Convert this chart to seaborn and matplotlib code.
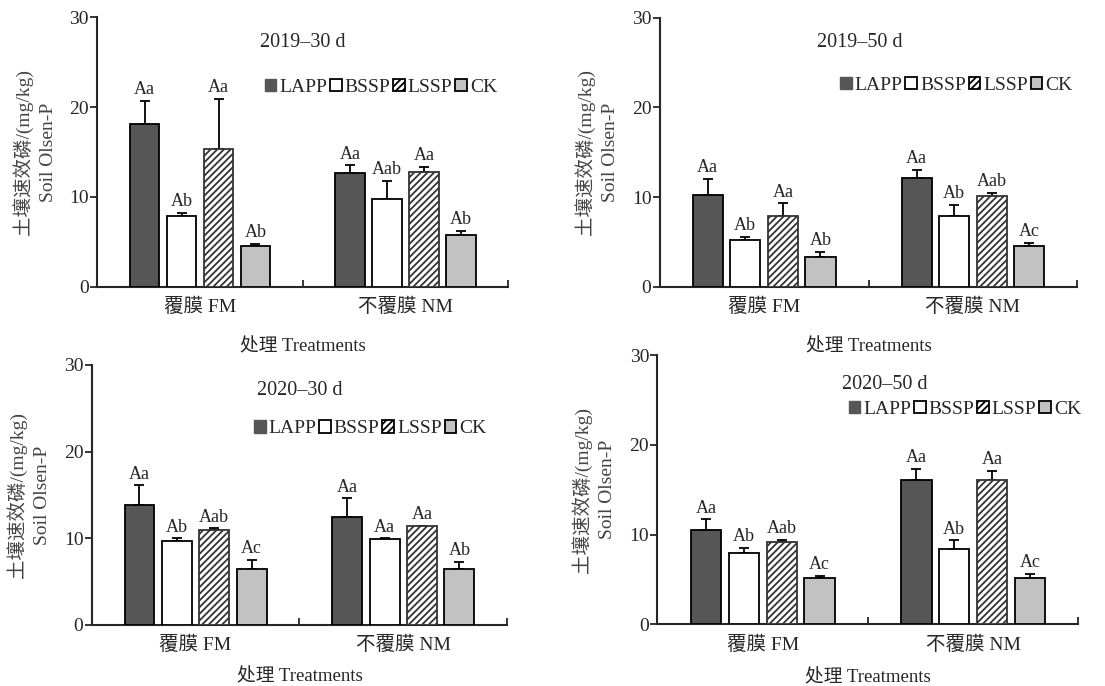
import numpy as np
import pandas as pd
import matplotlib
matplotlib.use("Agg")
import matplotlib.pyplot as plt
from matplotlib.patches import Patch
import seaborn as sns

# ---- data (FM group first, then NM) ----
groups = ['覆膜 FM', '不覆膜 NM']
treatments = ['LAPP', 'BSSP', 'LSSP', 'CK']
titles = ['2019–30 d', '2019–50 d', '2020–30 d', '2020–50 d']

mean_2019_30 = [[18.1, 7.85, 15.3, 4.55], [12.7, 9.75, 12.8, 5.75]]
sd_2019_30 = [[2.6, 0.4, 5.6, 0.2], [0.8, 2.05, 0.5, 0.45]]
let_2019_30 = [['Aa', 'Ab', 'Aa', 'Ab'], ['Aa', 'Aab', 'Aa', 'Ab']]

mean_2019_50 = [[10.2, 5.2, 7.9, 3.3], [12.1, 7.9, 10.15, 4.55]]
sd_2019_50 = [[1.8, 0.4, 1.4, 0.6], [0.9, 1.2, 0.35, 0.35]]
let_2019_50 = [['Aa', 'Ab', 'Aa', 'Ab'], ['Aa', 'Ab', 'Aab', 'Ac']]

mean_2020_30 = [[13.8, 9.65, 10.95, 6.4], [12.5, 9.9, 11.4, 6.45]]
sd_2020_30 = [[2.3, 0.35, 0.2, 1.1], [2.1, 0.1, 0.0, 0.8]]
let_2020_30 = [['Aa', 'Ab', 'Aab', 'Ac'], ['Aa', 'Aa', 'Aa', 'Ab']]

mean_2020_50 = [[10.5, 7.95, 9.2, 5.2], [16.1, 8.35, 16.05, 5.2]]
sd_2020_50 = [[1.2, 0.6, 0.2, 0.2], [1.2, 1.0, 1.05, 0.4]]
let_2020_50 = [['Aa', 'Ab', 'Aab', 'Ac'], ['Aa', 'Ab', 'Aa', 'Ac']]

panels = [
    (mean_2019_30, sd_2019_30, let_2019_30),
    (mean_2019_50, sd_2019_50, let_2019_50),
    (mean_2020_30, sd_2020_30, let_2020_30),
    (mean_2020_50, sd_2020_50, let_2020_50),
]

# ---- style ----
sns.set_style("ticks")
plt.rcParams['font.family'] = ['Liberation Serif', 'Noto Sans CJK SC']
plt.rcParams['hatch.linewidth'] = 1.3
plt.rcParams['axes.unicode_minus'] = False

colors = {'LAPP': '#565656', 'BSSP': '#ffffff', 'LSSP': '#ffffff', 'CK': '#c2c2c2'}

fig = plt.figure(figsize=(11.05, 6.86), dpi=100)

# axes rectangles in figure fractions
rects = [
    [0.088, 0.582, 0.372, 0.393],
    [0.597, 0.582, 0.378, 0.392],
    [0.083, 0.089, 0.376, 0.379],
    [0.595, 0.090, 0.381, 0.392],
]
# title centre and legend centre (axes coords)
title_pos = [(0.50, 0.905), (0.48, 0.91), (0.50, 0.90), (0.54, 0.89)]
legend_pos = [(0.69, 0.74), (0.71, 0.75), (0.67, 0.754), (0.73, 0.80)]
xlabel_pad = [16, 16, 10, 11]

for i, (means, sds, lets) in enumerate(panels):
    ax = fig.add_axes(rects[i])
    df = pd.DataFrame({
        'group': np.repeat(groups, len(treatments)),
        'trt': treatments * len(groups),
        'value': np.ravel(means),
    })
    sns.barplot(data=df, x='group', y='value', hue='trt', hue_order=treatments,
                order=groups, palette=colors, errorbar=None, width=0.72, gap=0.2,
                edgecolor='black', linewidth=1.3, legend=False, ax=ax, zorder=3)

    bar_containers = list(ax.containers)
    for k, cont in enumerate(bar_containers):
        xs, ys, es, ls = [], [], [], []
        for j, bar in enumerate(cont):
            if treatments[k] == 'LSSP':
                bar.set_hatch('/////')
                bar.set_edgecolor('#333333')
            xs.append(bar.get_x() + bar.get_width() / 2)
            ys.append(bar.get_height())
            es.append(sds[j][k])
            ls.append(lets[j][k])
        ax.errorbar(xs, ys, yerr=[np.zeros(len(es)), es], fmt='none', ecolor='black',
                    elinewidth=1.3, capsize=3.5, capthick=1.3, zorder=2)
        for x, y, e, t in zip(xs, ys, es, ls):
            ax.annotate(t, (x, y + e), xytext=(0, 2), textcoords='offset points',
                        ha='center', va='bottom', fontsize=13)

    ax.set_xlim(-0.5, 1.5)
    ax.set_ylim(0, 30)
    ax.set_yticks([0, 10, 20, 30])
    ax.set_xticks([0, 1])
    ax.set_xticklabels(groups)
    ax.set_xticks([0.5, 1.5], minor=True)
    ax.tick_params(axis='x', which='major', length=0, pad=8, labelsize=14)
    ax.tick_params(axis='x', which='minor', direction='in', length=5, width=1.3)
    ax.tick_params(axis='y', direction='out', length=5, width=1.3, pad=1, labelsize=14)
    for s in ['left', 'bottom']:
        ax.spines[s].set_linewidth(1.5)
    sns.despine(ax=ax)

    ax.set_xlabel('处理 Treatments', fontsize=13.5, labelpad=xlabel_pad[i])
    ax.set_ylabel('土壤速效磷/(mg/kg)\nSoil Olsen-P', fontsize=14, color='#444444',
                  linespacing=1.55)
    ax.yaxis.set_label_coords(-0.098, 0.5)

    ax.text(title_pos[i][0], title_pos[i][1], titles[i], transform=ax.transAxes,
            ha='center', va='center', fontsize=14.5)

    handles = [
        Patch(facecolor=colors['LAPP'], edgecolor=colors['LAPP'], label='LAPP'),
        Patch(facecolor='white', edgecolor='black', linewidth=1.3, label='BSSP'),
        Patch(facecolor='white', edgecolor='black', hatch='/////', linewidth=1.3, label='LSSP'),
        Patch(facecolor=colors['CK'], edgecolor='black', linewidth=1.3, label='CK'),
    ]
    ax.legend(handles=handles, ncol=4, frameon=False, loc='center',
              bbox_to_anchor=legend_pos[i], fontsize=14, handlelength=0.6,
              handleheight=0.6, handletextpad=0.15, columnspacing=0.15,
              borderaxespad=0, borderpad=0)

fig.savefig('out.png', dpi=100, facecolor='white')
